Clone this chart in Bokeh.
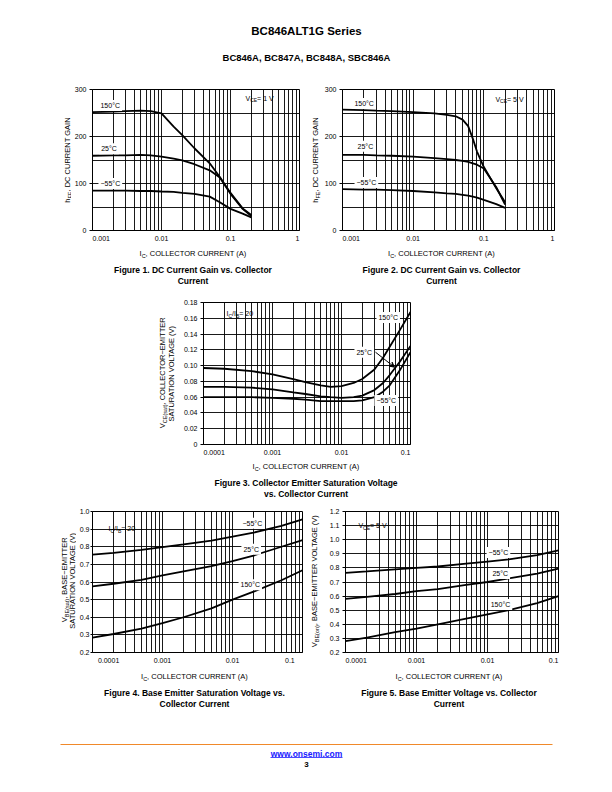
import math
from bokeh.plotting import figure
from bokeh.models import Range1d, FixedTicker, CustomJSTickFormatter, Label, Arrow, VeeHead, Spacer
from bokeh.layouts import column, row
from bokeh.embed import file_html
from bokeh.resources import INLINE

FONT = "Liberation Sans"

# ---------------- data ----------------
# Figure 1: hFE vs IC, VCE = 1 V
ic_f1 = [0.001, 0.002, 0.003, 0.005, 0.007, 0.01, 0.015, 0.02, 0.03, 0.05, 0.07, 0.1, 0.15, 0.2]
hfe1_150 = [252, 253, 254, 255, 254, 249, 221, 203, 175, 143, 114, 80, 47, 33]
hfe1_25 = [159, 160, 160, 161, 160, 157, 153, 149, 141, 128, 113, 78, 46, 31]
hfe1_m55 = [85, 85, 85, 84, 84, 83, 82, 80, 78, 72, 60, 46, 36, 28]

# Figure 2: hFE vs IC, VCE = 5 V
ic_f2 = [0.001, 0.002, 0.003, 0.005, 0.01, 0.02, 0.03, 0.04, 0.05, 0.06, 0.07, 0.08, 0.1, 0.15, 0.2]
hfe2_150 = [257, 256, 255, 254, 252, 249, 246, 243, 236, 222, 195, 168, 135, 90, 60]
hfe2_25 = [161, 161, 160, 159, 157, 154, 152, 150, 148, 146, 143, 140, 132, 92, 55]
hfe2_m55 = [88, 87, 87, 86, 84, 81, 79, 78, 76, 74, 72, 70, 65, 56, 48]

# Figure 3: VCE(sat) vs IC, IC/IB = 20
ic_f3 = [0.0001, 0.0002, 0.0005, 0.001, 0.002, 0.003, 0.005, 0.007, 0.01, 0.015, 0.02, 0.03, 0.04, 0.05, 0.07, 0.1]
vce_150 = [0.097, 0.096, 0.093, 0.089, 0.083, 0.079, 0.075, 0.073, 0.074, 0.078, 0.083, 0.095, 0.110, 0.124, 0.145, 0.168]
vce_25 = [0.073, 0.073, 0.072, 0.070, 0.066, 0.064, 0.061, 0.060, 0.059, 0.060, 0.062, 0.069, 0.078, 0.088, 0.105, 0.125]
vce_m55 = [0.060, 0.060, 0.060, 0.059, 0.058, 0.057, 0.055, 0.055, 0.055, 0.055, 0.056, 0.060, 0.067, 0.075, 0.094, 0.117]

# Figure 4: VBE(sat) vs IC, IC/IB = 20
ic_f45 = [0.0001, 0.0002, 0.0005, 0.001, 0.002, 0.005, 0.01, 0.02, 0.05, 0.1]
vbesat_m55 = [0.755, 0.765, 0.782, 0.798, 0.813, 0.835, 0.857, 0.88, 0.918, 0.955]
vbesat_25 = [0.575, 0.59, 0.612, 0.637, 0.66, 0.69, 0.718, 0.75, 0.80, 0.837]
vbesat_150 = [0.285, 0.305, 0.335, 0.367, 0.40, 0.45, 0.50, 0.545, 0.61, 0.667]

# Figure 5: VBE(on) vs IC, VCE = 5 V
vbeon_m55 = [0.765, 0.775, 0.79, 0.80, 0.81, 0.83, 0.845, 0.86, 0.89, 0.925]
vbeon_25 = [0.58, 0.595, 0.615, 0.635, 0.65, 0.68, 0.70, 0.725, 0.76, 0.795]
vbeon_150 = [0.28, 0.305, 0.345, 0.37, 0.40, 0.44, 0.47, 0.50, 0.55, 0.60]

x_major_3dec_a = [0.001, 0.01, 0.1, 1]
x_major_3dec_b = [0.0001, 0.001, 0.01, 0.1]
y_ticks_hfe = [0, 100, 200, 300]
y_grid_hfe = [0, 50, 100, 150, 200, 250, 300]
y_ticks_vce = [0, 0.02, 0.04, 0.06, 0.08, 0.10, 0.12, 0.14, 0.16, 0.18]
y_ticks_vbesat = [0.2, 0.3, 0.4, 0.5, 0.6, 0.7, 0.8, 0.9, 1.0]
y_ticks_vbeon = [0.2, 0.3, 0.4, 0.5, 0.6, 0.7, 0.8, 0.9, 1.0, 1.1, 1.2]

# ---------------- text helpers ----------------
AW = {' ': 278, '!': 278, '(': 333, ')': 333, ',': 278, '-': 333, '.': 278, '/': 278, '=': 584,
      '°': 400, '\u2212': 584,
      'A': 667, 'B': 667, 'C': 722, 'D': 722, 'E': 667, 'F': 611, 'G': 778, 'H': 722, 'I': 278,
      'J': 500, 'K': 667, 'L': 556, 'M': 833, 'N': 722, 'O': 778, 'P': 667, 'Q': 778, 'R': 722,
      'S': 667, 'T': 611, 'U': 722, 'V': 667, 'W': 944, 'X': 667, 'Y': 667, 'Z': 611,
      'a': 556, 'b': 556, 'c': 500, 'd': 556, 'e': 556, 'f': 278, 'g': 556, 'h': 556, 'i': 222,
      'j': 222, 'k': 500, 'l': 222, 'm': 833, 'n': 556, 'o': 556, 'p': 556, 'q': 556, 'r': 333,
      's': 500, 't': 278, 'u': 556, 'v': 500, 'w': 722, 'x': 500, 'y': 500, 'z': 500}


def tw(s, size):
    return sum(AW.get(c, 556) for c in s) / 1000.0 * size


def mk_label(**kw):
    bg = kw.pop("bg", False)
    if bg:
        kw["background_fill_color"] = "white"
        try:
            return Label(padding=2, **kw)
        except Exception:
            return Label(**kw)
    return Label(**kw)


def rich(p, pieces, x, y, dx=0.0, dy=0.0, angle=0.0, align="left", size=7, sub=5, bg=False):
    widths = [tw(t, sub if s else size) for t, s in pieces]
    total = sum(widths)
    off = 0.0 if align == "left" else (-total / 2 if align == "center" else -total)
    if bg:
        p.add_layout(mk_label(x=x, y=y, x_offset=dx + off, y_offset=dy,
                              text="".join(t for t, s in pieces), text_alpha=0.0,
                              text_font=FONT, text_font_size=f"{size}px",
                              text_align="left", text_baseline="middle", bg=True))
    for (t, s), w in zip(pieces, widths):
        if angle == 0:
            xo, yo = dx + off, dy + (-2 if s else 0)
        else:
            xo, yo = dx + (2 if s else 0), dy + off
        p.add_layout(Label(x=x, y=y, x_offset=xo, y_offset=yo,
                           text=t, angle=angle, text_font=FONT,
                           text_font_size=f"{sub if s else size}px", text_color="black",
                           text_align="left", text_baseline="middle"))
        off += w


def plain(p, text, x, y, size=7, bold=False, align="left", bg=False, color="black"):
    p.add_layout(mk_label(x=x, y=y, text=text, text_font=FONT,
                          text_font_size=f"{size}px", text_font_style="bold" if bold else "normal",
                          text_color=color, text_align=align, text_baseline="middle", bg=bg))


def minors(majors):
    out = []
    for m in majors[:-1]:
        out += [m * k for k in range(2, 10)]
    return out


# first x label left-aligned to the frame, last one right-aligned (as in the datasheet)
XFMT = r"""
const s = tick.toString();
const d = s.replace(/[^0-9]/g, '').length;
const n = 2 * d + (s.length - d);
if (index == 0) return '\u00a0'.repeat(n) + s;
if (index == ticks.length - 1) return s + '\u00a0'.repeat(n);
return s;
"""


def chart(xr, yr, fw, fh, bl, br, bt, bb, xmaj, ytick, ygrid, yfmt, ystand=3, ytick_out=3):
    p = figure(x_axis_type="log", x_range=Range1d(*xr), y_range=Range1d(*yr),
               frame_width=fw, frame_height=fh, min_border_left=bl, min_border_right=br,
               min_border_top=bt, min_border_bottom=bb, toolbar_location=None,
               output_backend="svg", background_fill_color="white", border_fill_color="white",
               outline_line_color="black", outline_line_width=1)
    xa = p.xaxis[0]
    xa.ticker = FixedTicker(ticks=xmaj)
    xa.formatter = CustomJSTickFormatter(code=XFMT)
    xa.major_tick_out = 0
    xa.major_tick_in = 0
    xa.minor_tick_out = 0
    xa.minor_tick_in = 0
    xa.major_label_standoff = 4
    ya = p.yaxis[0]
    ya.ticker = FixedTicker(ticks=ytick)
    ya.formatter = CustomJSTickFormatter(code=yfmt)
    ya.major_tick_out = ytick_out
    ya.major_tick_in = 0
    ya.minor_tick_out = 0
    ya.minor_tick_in = 0
    ya.major_label_standoff = ystand
    for ax in (xa, ya):
        ax.axis_line_color = "black"
        ax.major_tick_line_color = "black"
        ax.major_label_text_font = FONT
        ax.major_label_text_font_size = "7px"
        ax.major_label_text_color = "black"
    p.xgrid.ticker = FixedTicker(ticks=xmaj, minor_ticks=minors(xmaj))
    p.xgrid.grid_line_color = "black"
    p.xgrid.minor_grid_line_color = "black"
    p.xgrid.grid_line_width = 0.9
    p.xgrid.minor_grid_line_width = 0.9
    p.ygrid.ticker = FixedTicker(ticks=ygrid)
    p.ygrid.grid_line_color = "black"
    p.ygrid.grid_line_width = 0.9
    return p


def strip(w, h):
    s = figure(width=w, height=h, x_range=Range1d(0, w), y_range=Range1d(0, h),
               min_border=0, toolbar_location=None, output_backend="svg",
               x_axis_location=None, y_axis_location=None, outline_line_color=None)
    s.grid.visible = False
    return s


def curve(p, x, y):
    p.line(x, y, line_color="black", line_width=1.8)


IC_LBL = [("I", False), ("C", True), (", COLLECTOR CURRENT (A)", False)]
AX_SIZE = 7.5
AX_SUB = 5.5


def under(s, cx, y_axis, y_cap, lines):
    rich(s, IC_LBL, cx, y_axis, align="center", size=AX_SIZE, sub=AX_SUB)
    for i, t in enumerate(lines):
        plain(s, t, cx, y_cap - 11 * i, size=8.5, bold=True, align="center")


def vlabel(s, pieces, x, yc):
    rich(s, pieces, x, yc, angle=math.pi / 2, align="center", size=AX_SIZE, sub=AX_SUB)


FMT_INT = "return tick.toFixed(0)"
FMT_2 = "return tick == 0 ? '0' : tick.toFixed(2)"
FMT_1 = "return tick.toFixed(1)"
DEG = "°C"
M55 = "\u221255" + DEG
IC_IB = [("I", False), ("C", True), ("/I", False), ("B", True), (" = 20", False)]
HFE = [("h", False), ("FE", True), (", DC CURRENT GAIN", False)]

# ---------------- header ----------------
hdr = strip(596, 67)
plain(hdr, "BC846ALT1G Series", 298, 45, size=11.5, bold=True, align="center")
plain(hdr, "BC846A, BC847A, BC848A, SBC846A", 298, 18, size=9.5, bold=True, align="center")

# ---------------- figures 1 and 2 ----------------
xr1, yr1 = (0.001, 1), (0, 300)
f1 = chart(xr1, yr1, 207, 141, 18, 10, 14, 14, x_major_3dec_a, y_ticks_hfe, y_grid_hfe, FMT_INT)
curve(f1, ic_f1, hfe1_150)
curve(f1, ic_f1, hfe1_25)
curve(f1, ic_f1, hfe1_m55)
plain(f1, "150" + DEG, 0.00122, 266, bg=True)
plain(f1, "25" + DEG, 0.00125, 174, bg=True)
plain(f1, M55, 0.00122, 100, bg=True)
rich(f1, [("V", False), ("CE", True), (" = 1 V", False)], 0.165, 281, bg=True)

f2 = chart(xr1, yr1, 212, 141, 17, 57, 14, 14, x_major_3dec_a, y_ticks_hfe, y_grid_hfe, FMT_INT)
curve(f2, ic_f2, hfe2_150)
curve(f2, ic_f2, hfe2_25)
curve(f2, ic_f2, hfe2_m55)
plain(f2, "150" + DEG, 0.00138, 270, bg=True)
plain(f2, "25" + DEG, 0.00153, 179, bg=True)
plain(f2, M55, 0.00148, 102, bg=True)
rich(f2, [("V", False), ("CE", True), (" = 5 V", False)], 0.146, 279, bg=True)

yl1 = strip(63, 169)
vlabel(yl1, HFE, 59, 84.5)
yl2 = strip(12, 169)
vlabel(yl2, HFE, 6, 84.5)
cap12 = strip(596, 46)
under(cap12, 184.5, 37, 21, ["Figure 1. DC Current Gain vs. Collector", "Current"])
under(cap12, 433, 37, 21, ["Figure 2. DC Current Gain vs. Collector", "Current"])

# ---------------- figure 3 ----------------
xr3, yr3 = (0.0001, 0.1), (0, 0.18)
f3 = chart(xr3, yr3, 207, 142, 22, 195, 12, 14, x_major_3dec_b, y_ticks_vce, y_ticks_vce, FMT_2)
curve(f3, ic_f3, vce_150)
curve(f3, ic_f3, vce_25)
curve(f3, ic_f3, vce_m55)
rich(f3, IC_IB, 0.000215, 0.166, bg=True)
plain(f3, "150" + DEG, 0.0321, 0.161, bg=True)
plain(f3, "25" + DEG, 0.0154, 0.117, bg=True)
plain(f3, M55, 0.030, 0.0558, bg=True)
f3.add_layout(Arrow(end=VeeHead(size=5, fill_color="black", line_color="black"),
                    x_start=0.0311, y_start=0.117, x_end=0.0586, y_end=0.098,
                    line_color="black", line_width=1))
yl3 = strip(172, 168)
vlabel(yl3, [("V", False), ("CE(sat)", True), (", COLLECTOR\u2212EMITTER", False)], 154, 85)
vlabel(yl3, [("SATURATION VOLTAGE (V)", False)], 162.5, 85)
cap3 = strip(596, 42)
under(cap3, 297.5, 34, 18, ["Figure 3. Collector Emitter Saturation Voltage", "vs. Collector Current"])

# ---------------- figures 4 and 5 ----------------
xr4, yr4 = (0.0001, 0.1), (0.2, 1.0)
f4 = chart(xr4, yr4, 210, 141, 13, 2, 10, 14, x_major_3dec_b, y_ticks_vbesat, y_ticks_vbesat, FMT_1,
           ystand=1, ytick_out=2)
curve(f4, ic_f45, vbesat_m55)
curve(f4, ic_f45, vbesat_25)
curve(f4, ic_f45, vbesat_150)
rich(f4, IC_IB, 0.000169, 0.903, bg=True)
plain(f4, M55, 0.013, 0.934, bg=True)
plain(f4, "25" + DEG, 0.0134, 0.786, bg=True)
plain(f4, "150" + DEG, 0.0122, 0.585, bg=True)

xr5, yr5 = (0.0001, 0.1), (0.2, 1.2)
f5 = chart(xr5, yr5, 213, 141, 24, 49, 11, 13, x_major_3dec_b, y_ticks_vbeon, y_ticks_vbeon, FMT_1)
curve(f5, ic_f45, vbeon_m55)
curve(f5, ic_f45, vbeon_25)
curve(f5, ic_f45, vbeon_150)
rich(f5, [("V", False), ("CE", True), (" = 5 V", False)], 0.000152, 1.10, bg=True)
plain(f5, M55, 0.0097, 0.91, bg=True)
plain(f5, "25" + DEG, 0.011, 0.76, bg=True)
plain(f5, "150" + DEG, 0.0104, 0.54, bg=True)

yl4 = strip(68, 165)
vlabel(yl4, [("V", False), ("BE(sat)", True), (", BASE\u2212EMITTER", False)], 56, 84.5)
vlabel(yl4, [("SATURATION VOLTAGE (V)", False)], 64, 84.5)
yl5 = strip(17, 165)
vlabel(yl5, [("V", False), ("BE(on)", True), (", BASE\u2212EMITTER VOLTAGE (V)", False)], 10, 83.5)
cap45 = strip(596, 50)
under(cap45, 186, 40, 24, ["Figure 4. Base Emitter Saturation Voltage vs.", "Collector Current"])
under(cap45, 440.5, 40, 24, ["Figure 5. Base Emitter Voltage vs. Collector", "Current"])

# ---------------- footer ----------------
ftr = strip(596, 61)
ftr.line([52, 544], [33, 33], line_color="#f0892a", line_width=1.2)
plain(ftr, "www.onsemi.com", 298, 24, size=8.5, bold=True, align="center", color="#1a1aff")
ftr.line([262, 334], [20, 20], line_color="#1a1aff", line_width=0.8)
plain(ftr, "3", 298, 13, size=8, bold=True, align="center")

page = column(
    hdr,
    row(yl1, f1, yl2, f2, spacing=0),
    cap12,
    row(yl3, f3, spacing=0),
    cap3,
    row(yl4, f4, yl5, f5, spacing=0),
    cap45,
    ftr,
    spacing=0,
)
outer = column(Spacer(height=8), row(Spacer(width=8), page, spacing=0), spacing=0)

open("out.html", "w").write(file_html(outer, INLINE))
